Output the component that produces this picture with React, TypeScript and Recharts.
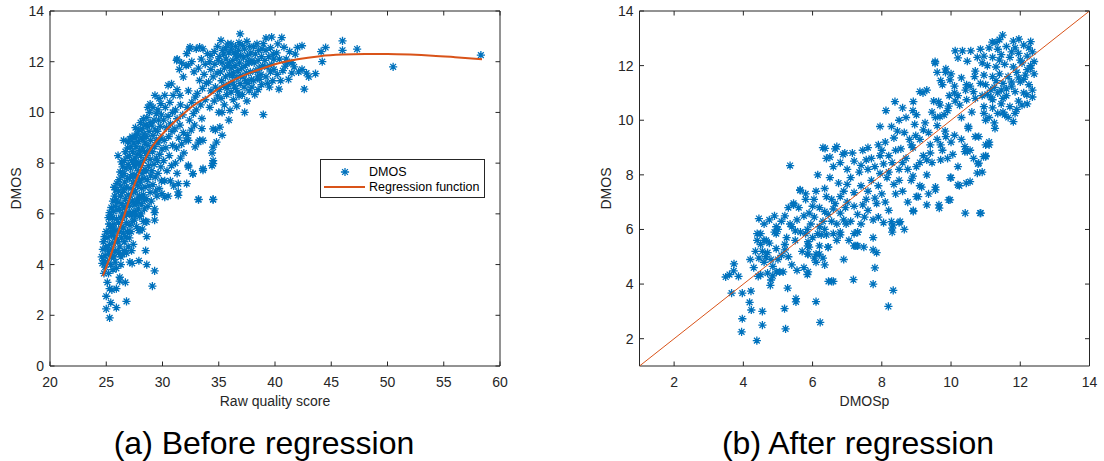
import React from 'react';
import { ScatterChart, Scatter, XAxis, YAxis, ReferenceArea } from 'recharts';

// ---- data: (a) before regression — [raw quality score, DMOS] ----
const before24_25 = [
  [24.6, 4.3], [24.7, 4.6], [24.65, 4.05], [24.8, 3.65], [24.75, 4.9], [24.9, 4.35], [24.85, 5.1],
  [24.95, 4.7], [24.9, 3.9], [25.0, 2.25], [25.0, 2.75], [24.8, 4.15], [25.0, 5.3],
];
const before25_26 = [
  [25.1, 3.3], [25.3, 1.9], [25.3, 3.05], [25.2, 3.65], [25.4, 2.5], [25.5, 3.0], [25.1, 4.1], [25.2, 4.45],
  [25.3, 4.8], [25.15, 5.05], [25.35, 5.3], [25.25, 5.6], [25.4, 5.9], [25.45, 6.25], [25.3, 6.05], [25.45, 4.3],
  [25.4, 4.0], [25.2, 5.85], [25.1, 4.65], [25.35, 5.5], [25.5, 4.6], [25.48, 5.15],
  [25.6, 3.8], [25.9, 3.85], [25.9, 3.05], [25.9, 2.3], [25.55, 4.35], [25.7, 4.3], [25.8, 4.55], [25.6, 4.85],
  [25.75, 5.05], [25.95, 5.0], [25.6, 5.25], [25.85, 5.35], [25.7, 5.6], [25.55, 5.85], [25.9, 5.8], [25.65, 6.1],
  [25.8, 6.3], [25.95, 6.15], [25.6, 6.5], [25.75, 6.7], [25.9, 6.55], [25.85, 6.95], [25.7, 7.05], [25.95, 7.2],
  [25.65, 5.45], [25.8, 4.1],
];
const before26_27 = [
  [26.05, 8.3], [26.2, 3.35], [26.2, 3.5], [26.1, 4.45], [26.3, 4.3], [26.45, 4.4], [26.2, 4.7], [26.05, 4.9],
  [26.35, 5.05], [26.15, 5.3], [26.4, 5.5], [26.1, 5.65], [26.3, 5.85], [26.45, 6.0], [26.2, 6.2], [26.05, 6.45],
  [26.4, 6.4], [26.25, 6.7], [26.1, 6.9], [26.45, 6.85], [26.3, 7.1], [26.15, 7.35], [26.4, 7.5], [26.25, 7.65],
  [26.45, 7.85], [26.35, 8.05], [26.3, 4.0], [26.5, 5.25],
  [26.8, 2.55], [26.7, 3.3], [26.6, 4.55], [26.8, 4.45], [26.95, 4.7], [26.6, 4.9], [26.75, 5.1], [26.9, 5.3],
  [26.55, 5.45], [26.8, 5.65], [26.65, 5.9], [26.95, 6.05], [26.6, 6.25], [26.85, 6.4], [26.7, 6.6], [26.95, 6.75],
  [26.55, 6.95], [26.8, 7.05], [26.65, 7.25], [26.9, 7.4], [26.6, 7.6], [26.75, 7.8], [26.95, 7.95], [26.6, 8.1],
  [26.85, 8.25], [26.7, 8.45], [26.9, 8.6], [26.95, 8.85], [26.55, 8.9], [26.8, 6.0],
];
const before27_28 = [
  [27.1, 4.1], [27.3, 4.05], [27.2, 5.3], [27.05, 5.05], [27.4, 4.8], [27.1, 5.55], [27.35, 5.7], [27.25, 5.95],
  [27.45, 6.1], [27.05, 6.3], [27.3, 6.5], [27.15, 6.7], [27.45, 6.85], [27.2, 7.0], [27.4, 7.2], [27.05, 7.4],
  [27.3, 7.55], [27.15, 7.8], [27.45, 7.95], [27.25, 8.1], [27.05, 8.3], [27.35, 8.45], [27.2, 8.65], [27.45, 8.8],
  [27.1, 8.95], [27.3, 9.05], [27.4, 7.5], [27.1, 6.0], [27.45, 6.45], [27.25, 4.55],
  [27.9, 4.15], [27.9, 5.35], [27.5, 5.75], [27.7, 5.5], [27.6, 6.0], [27.85, 6.2], [27.55, 6.35], [27.75, 6.55],
  [27.95, 6.7], [27.6, 6.9], [27.8, 7.1], [27.55, 7.25], [27.95, 7.35], [27.7, 7.5], [27.85, 7.7], [27.6, 7.85],
  [27.9, 8.0], [27.55, 8.2], [27.75, 8.35], [27.95, 8.5], [27.65, 8.65], [27.85, 8.85], [27.55, 9.0], [27.75, 9.15],
  [27.9, 9.3], [27.6, 9.4], [27.7, 9.1], [27.8, 6.45], [27.95, 5.9], [27.65, 8.05],
];
const before28_29 = [
  [28.2, 5.4], [28.0, 5.35], [28.3, 5.7], [28.1, 6.0], [28.4, 6.2], [28.0, 6.65], [28.3, 6.75], [28.15, 7.0],
  [28.45, 7.05], [28.05, 7.25], [28.35, 7.4], [28.2, 7.6], [28.45, 7.75], [28.1, 7.9], [28.3, 8.1], [28.05, 8.3],
  [28.4, 8.45], [28.2, 8.6], [28.45, 8.8], [28.1, 9.0], [28.35, 9.15], [28.2, 9.35], [28.45, 9.5], [28.05, 9.6],
  [28.3, 9.75], [28.15, 6.4], [28.25, 8.95], [28.4, 6.55],
  [28.6, 4.0], [28.5, 4.55], [28.6, 5.1], [28.5, 5.7], [28.6, 5.68], [28.7, 6.3], [28.9, 6.85], [28.55, 6.6],
  [28.8, 7.1], [28.65, 7.35], [28.95, 7.5], [28.55, 7.7], [28.75, 7.9], [28.9, 8.15], [28.6, 8.3], [28.85, 8.5],
  [28.7, 8.7], [28.95, 8.9], [28.55, 9.05], [28.8, 9.25], [28.65, 9.45], [28.9, 9.6], [28.6, 9.8], [28.85, 10.0],
  [28.7, 10.2], [28.9, 10.33],
];
const before29_30 = [
  [29.1, 3.15], [29.3, 3.75], [29.3, 5.75], [29.3, 6.05], [29.3, 6.2], [29.0, 6.5], [29.4, 6.9], [29.15, 7.15],
  [29.35, 7.45], [29.05, 7.7], [29.25, 7.95], [29.45, 8.2], [29.1, 8.45], [29.3, 8.65], [29.45, 8.9], [29.15, 9.1],
  [29.35, 9.3], [29.05, 9.5], [29.25, 9.7], [29.45, 9.95], [29.33, 10.67], [29.15, 10.2],
  [29.5, 6.7], [29.7, 7.0], [29.9, 7.3], [29.6, 7.6], [29.85, 7.85], [29.55, 8.1], [29.75, 8.35], [29.95, 8.55],
  [29.6, 8.8], [29.85, 9.0], [29.55, 9.25], [29.8, 9.45], [29.65, 9.7], [29.9, 9.9], [29.6, 10.1], [29.85, 10.35],
  [29.7, 10.55], [29.95, 6.8],
];
const before30_32 = [
  [30.2, 6.66], [30.5, 6.7], [30.2, 7.3], [30.7, 7.3], [31.0, 7.1], [30.4, 7.7], [30.8, 7.9], [30.1, 8.1],
  [30.6, 8.3], [30.3, 8.6], [30.9, 8.7], [30.15, 8.9], [30.55, 9.05], [30.85, 9.25], [30.35, 9.4], [30.7, 9.55],
  [30.1, 9.7], [30.5, 9.85], [30.9, 10.0], [30.25, 10.2], [30.65, 10.4], [30.2, 10.67], [30.95, 10.67], [30.5, 11.07],
  [30.8, 11.13],
  [31.4, 6.73], [31.4, 6.87], [31.4, 7.19], [31.3, 7.6], [31.15, 8.0], [31.6, 8.2], [31.9, 8.4], [31.25, 8.6],
  [31.7, 8.75], [31.45, 9.0], [31.85, 9.2], [31.1, 9.35], [31.55, 9.5], [31.3, 9.75], [31.8, 9.9], [31.15, 10.1],
  [31.6, 10.3], [31.55, 10.67], [31.3, 10.9], [31.85, 11.4], [31.26, 12.05], [31.3, 12.1], [31.5, 11.7], [31.7, 11.95],
];
const before32_34 = [
  [32.15, 7.19], [32.3, 7.85], [32.3, 7.91], [32.7, 7.59], [32.7, 7.58], [32.9, 8.64], [32.3, 8.9], [32.1, 8.9],
  [32.2, 9.1], [32.55, 9.3], [32.85, 9.5], [32.4, 9.7], [32.75, 9.95], [32.2, 10.2], [32.6, 10.4], [32.9, 10.6],
  [32.3, 10.85], [32.1, 11.85], [32.3, 11.87], [32.4, 12.51], [32.45, 12.58], [32.15, 12.32], [32.6, 12.0], [32.8, 11.6],
  [33.2, 6.56], [33.2, 6.57], [33.6, 7.72], [33.6, 7.78], [33.3, 8.9], [33.2, 8.83], [33.6, 8.9], [33.5, 9.36],
  [33.5, 9.76], [33.0, 10.1], [33.4, 10.3], [33.8, 10.5], [33.1, 10.75], [33.55, 10.95], [33.9, 11.15], [33.3, 11.26],
  [33.7, 11.5], [33.2, 11.75], [33.8, 11.9], [33.0, 12.51], [33.6, 12.51], [33.3, 12.58], [34.0, 12.32], [33.45, 12.1],
];
const before34_36 = [
  [34.5, 6.56], [34.5, 6.57], [34.5, 7.98], [34.4, 8.4], [34.5, 8.1], [34.4, 7.9], [34.5, 8.63], [34.8, 8.83],
  [34.7, 9.3], [34.5, 9.35], [35.0, 10.0], [34.2, 10.2], [34.6, 10.45], [34.9, 10.65], [34.3, 10.85], [34.7, 11.0],
  [34.1, 11.2], [34.5, 11.4], [34.85, 11.55], [34.3, 11.7], [34.65, 11.9], [34.95, 12.05], [34.3, 12.25], [34.6, 12.4],
  [34.9, 12.6], [34.2, 12.0],
  [35.1, 9.42], [35.3, 9.1], [35.3, 10.0], [35.9, 9.7], [35.5, 10.3], [35.2, 10.55], [35.7, 10.7], [35.05, 10.9],
  [35.45, 11.05], [35.85, 11.1], [35.25, 11.25], [35.6, 11.4], [35.95, 11.5], [35.15, 11.6], [35.5, 11.75], [35.8, 11.85],
  [35.3, 11.95], [35.65, 12.1], [35.05, 12.2], [35.45, 12.3], [35.9, 12.35], [35.2, 12.84], [35.6, 12.55], [35.8, 12.7],
  [35.35, 12.45], [35.75, 10.95], [35.95, 11.95], [36.0, 10.08],
];
const before36_38 = [
  [36.6, 10.25], [36.3, 10.5], [36.8, 10.65], [36.1, 10.8], [36.5, 10.95], [36.9, 11.14], [36.2, 11.2], [36.6, 11.35],
  [36.95, 11.45], [36.3, 11.55], [36.7, 11.65], [36.1, 11.75], [36.45, 11.85], [36.85, 11.95], [36.25, 12.05], [36.6, 12.15],
  [36.95, 12.25], [36.35, 12.35], [36.75, 12.45], [36.1, 12.5], [36.5, 12.6], [36.1, 12.7], [36.9, 13.1], [36.8, 12.75],
  [36.4, 11.05], [36.2, 11.45], [36.55, 12.3], [36.7, 10.8],
  [37.3, 10.0], [37.5, 10.45], [37.1, 10.7], [37.7, 10.85], [37.25, 11.0], [37.6, 11.15], [37.9, 11.3], [37.15, 11.4],
  [37.45, 11.55], [37.8, 11.6], [37.05, 11.75], [37.35, 11.85], [37.7, 11.95], [37.95, 12.05], [37.2, 12.15], [37.55, 12.25],
  [37.85, 12.35], [37.3, 12.5], [37.5, 12.8], [37.75, 12.6], [37.1, 12.65], [37.95, 11.0], [37.4, 11.25], [37.65, 12.0],
];
const before38_42 = [
  [38.96, 9.91], [38.2, 10.7], [38.5, 10.9], [38.8, 11.1], [38.1, 11.25], [38.45, 11.4], [38.75, 11.5], [38.3, 11.65],
  [38.6, 11.75], [38.9, 11.85], [38.15, 11.95], [38.5, 12.05], [38.8, 12.2], [38.25, 12.3], [38.55, 12.45], [38.4, 12.7],
  [38.96, 12.71], [38.85, 12.5], [38.1, 12.6], [38.65, 11.3],
  [39.5, 11.0], [39.8, 11.25], [39.2, 11.4], [39.6, 11.6], [39.3, 11.8], [39.7, 11.9], [39.1, 12.05], [39.45, 12.2],
  [39.85, 12.3], [39.2, 12.45], [39.6, 12.55], [39.2, 12.93], [39.7, 12.97], [39.9, 12.1], [39.35, 11.15], [39.9, 11.7],
  [40.35, 10.92], [40.6, 12.95], [40.8, 12.57], [40.9, 11.83], [41.2, 11.3], [41.5, 11.55], [41.5, 11.96], [41.8, 12.3],
  [42.0, 12.56], [42.1, 11.6], [40.2, 11.5], [40.4, 12.1], [40.7, 11.65], [40.15, 12.35], [41.0, 12.1], [41.3, 12.4],
  [40.5, 11.25], [41.7, 11.8], [40.25, 12.7], [41.1, 11.95],
];
const before42_60 = [
  [42.4, 12.63], [42.4, 11.7], [42.6, 10.92], [43.0, 11.4], [43.6, 11.53], [44.1, 12.4], [44.5, 12.56], [44.2, 12.0],
  [46.0, 12.82], [46.0, 12.45], [47.3, 12.5], [42.8, 11.55], [50.5, 11.8], [58.3, 12.26],
];

// fitted regression function
const regressionCurve = [
  [24.7, 3.55], [25.0, 3.9], [25.5, 4.5], [26.0, 5.2], [26.5, 5.8], [27.0, 6.5], [27.5, 7.15], [28.0, 7.7],
  [28.5, 8.2], [29.0, 8.6], [29.5, 8.9], [30.0, 9.15], [31.0, 9.6], [32.0, 10.0], [33.0, 10.35], [34.0, 10.62],
  [35.0, 10.95], [36.0, 11.2], [37.0, 11.42], [38.0, 11.6], [39.0, 11.75], [40.0, 11.9], [42.0, 12.1], [44.0, 12.22],
  [46.0, 12.28], [48.0, 12.3], [50.0, 12.3], [52.0, 12.28], [54.0, 12.24], [56.0, 12.18], [58.4, 12.1],
];

// ---- data: (b) after regression — [DMOSp, DMOS] ----
const afterLowOutliers = [
  [3.49, 4.26], [3.66, 3.67], [3.97, 3.67], [4.22, 3.74], [4.18, 3.33], [4.23, 3.05], [3.97, 2.73], [3.95, 2.25],
  [4.39, 1.93], [4.55, 2.5], [4.55, 3.0], [5.22, 2.36], [5.19, 3.1], [5.28, 3.85], [5.52, 3.35], [5.52, 3.47],
  [6.1, 3.36], [6.22, 2.6], [4.78, 3.95], [4.8, 4.15], [8.19, 3.18], [8.33, 3.77], [7.75, 4.0], [6.46, 4.1],
  [6.6, 4.1], [6.55, 4.1], [7.18, 4.16], [7.8, 4.59],
];
const afterLowLeft = [
  [3.73, 4.74], [3.72, 4.48], [3.86, 4.28], [3.6, 4.35], [4.43, 4.28], [4.5, 4.35], [4.45, 4.95], [4.5, 5.45],
  [4.4, 5.6], [4.5, 5.85], [4.66, 5.6], [4.75, 5.5], [4.55, 5.2], [4.6, 4.8], [4.7, 4.4], [4.85, 4.3],
  [4.4, 5.85], [4.6, 5.6], [4.95, 5.85], [4.75, 6.35], [4.95, 6.1], [4.9, 5.9], [4.3, 4.6], [4.65, 5.0],
  [4.85, 4.65], [4.35, 5.2], [4.2, 4.9], [4.9, 6.5], [4.6, 6.2], [4.45, 6.4], [4.8, 4.9], [4.95, 4.45],
];
const afterLowMid = [
  [5.05, 4.45], [5.15, 4.45], [5.0, 4.9], [5.1, 5.05], [5.2, 5.25], [5.3, 5.0], [5.55, 4.5], [5.87, 4.45],
  [5.85, 4.35], [5.87, 5.1], [5.9, 5.35], [5.87, 5.55], [6.0, 5.7], [6.1, 5.1], [6.2, 5.4], [6.1, 4.8],
  [6.35, 4.7], [6.25, 5.8], [6.4, 5.8], [5.0, 6.0], [5.35, 6.2], [5.75, 4.6], [6.05, 4.95], [5.86, 5.4],
  [5.86, 5.1], [6.2, 5.1], [5.8, 5.85], [6.15, 5.85], [5.4, 6.1], [5.55, 6.35], [5.75, 6.5], [6.0, 6.85],
  [6.04, 7.1], [5.45, 6.96], [5.64, 7.45], [5.2, 6.5], [5.5, 5.6], [5.65, 5.9], [5.25, 5.7], [5.1, 6.3],
  [5.95, 6.2], [6.3, 6.3], [6.45, 6.55], [6.2, 6.8], [5.9, 6.6], [5.6, 6.8], [5.3, 6.8], [6.4, 7.2],
  [6.1, 7.4], [5.8, 7.1], [5.64, 7.43], [5.45, 6.9], [5.8, 7.3], [6.35, 6.0], [5.7, 5.2], [6.45, 5.35],
  [6.3, 4.95], [5.4, 4.7], [5.35, 8.34],
];
const afterMid = [
  [6.6, 5.85], [6.8, 5.8], [7.2, 5.85], [7.2, 5.4], [6.7, 5.6], [6.45, 5.35], [6.9, 4.9], [7.25, 5.4],
  [7.3, 5.9], [6.8, 5.9], [6.97, 6.2], [7.5, 6.45], [7.75, 6.35], [7.9, 6.45], [6.9, 6.35], [6.8, 6.6],
  [7.2, 6.85], [7.55, 7.1], [7.2, 7.35], [6.9, 7.4], [6.55, 7.1], [6.35, 7.5], [6.15, 8.0], [6.4, 8.6],
  [6.3, 9.0], [6.65, 8.95], [6.88, 8.75], [7.2, 8.5], [7.45, 8.9], [7.6, 9.0], [7.95, 8.7], [6.36, 8.97],
  [6.7, 9.03], [6.93, 8.8], [7.3, 5.4], [7.48, 5.35], [7.75, 5.25], [7.85, 5.15], [7.75, 5.7], [7.3, 5.9],
  [7.0, 7.0], [7.4, 7.6], [7.7, 7.8], [7.1, 7.9], [6.75, 7.7], [6.5, 7.9], [6.6, 8.3], [7.0, 8.2],
  [7.35, 8.1], [7.8, 8.3], [7.6, 7.4], [7.9, 7.6], [6.95, 6.8], [7.6, 6.7], [7.4, 6.2], [7.05, 5.6],
  [6.55, 6.3], [7.85, 6.95], [7.3, 6.55], [6.65, 6.95], [7.55, 8.55], [7.15, 8.8], [6.8, 8.45], [6.5, 8.65],
  [7.95, 8.05],
];
const afterUpperMid = [
  [8.3, 5.9], [8.32, 6.17], [8.5, 6.25], [8.05, 6.25], [8.3, 6.05], [8.2, 6.7], [8.91, 6.66], [8.91, 6.69],
  [8.53, 6.29], [8.28, 6.29], [8.4, 7.3], [8.85, 7.8], [8.5, 7.8], [9.05, 7.2], [9.15, 7.55], [9.0, 7.2],
  [9.1, 7.6], [8.9, 7.95], [8.5, 8.2], [8.3, 8.45], [8.65, 9.55], [8.98, 9.44], [9.35, 9.55], [9.4, 9.1],
  [8.5, 10.0], [8.7, 10.1], [8.95, 9.85], [7.95, 9.77], [8.28, 9.77], [8.38, 10.68], [8.12, 10.35], [8.91, 10.68],
  [9.19, 11.0], [9.3, 11.1], [9.1, 11.05], [8.9, 10.35], [8.1, 9.2], [8.4, 8.9], [8.7, 8.6], [9.0, 8.3],
  [9.3, 8.0], [9.2, 8.7], [8.85, 9.1], [8.2, 8.7], [8.6, 7.4], [8.75, 7.0], [9.35, 7.3], [9.45, 8.45],
  [8.15, 7.9], [8.05, 8.4], [8.55, 8.95], [9.25, 9.9], [9.0, 10.2], [8.6, 10.45], [9.45, 10.3], [8.35, 9.35],
  [9.1, 9.3], [8.0, 7.3], [9.3, 6.9], [8.65, 6.0],
];
const afterUpper = [
  [9.66, 6.78], [9.93, 7.08], [9.97, 7.08], [10.41, 6.6], [10.84, 6.6], [10.86, 6.6], [9.65, 6.9], [9.55, 7.55],
  [9.55, 7.45], [10.2, 7.63], [9.98, 7.9], [10.0, 7.9], [10.24, 7.6], [10.44, 7.7], [10.55, 7.75], [10.76, 8.06],
  [10.8, 8.43], [10.78, 8.4], [10.9, 8.1], [10.4, 8.85], [10.55, 8.9], [10.47, 8.85], [10.4, 9.03], [10.1, 9.45],
  [10.3, 9.3], [10.5, 9.7], [10.7, 9.4], [10.8, 9.4], [9.6, 9.8], [9.83, 9.6], [9.7, 9.1], [9.68, 10.13],
  [9.5, 10.7], [9.68, 10.55], [9.95, 10.9], [10.1, 11.0], [9.93, 10.52], [9.64, 10.68], [10.2, 10.9], [10.12, 10.7],
  [10.45, 11.3], [10.42, 11.1], [10.55, 11.25], [9.75, 11.3], [9.7, 11.45], [9.6, 11.75], [9.54, 12.15], [9.54, 12.09],
  [9.85, 11.88], [10.0, 11.7], [9.97, 11.48], [9.84, 11.75], [10.7, 11.8], [10.68, 11.6], [10.12, 12.54], [10.33, 12.54],
  [10.57, 12.54], [10.2, 12.28], [10.47, 12.16], [10.76, 12.3], [10.5, 9.77], [9.9, 8.6], [10.2, 8.3], [10.6, 10.3],
  [10.3, 10.1], [9.8, 10.2], [10.7, 10.8], [10.0, 9.2], [9.75, 8.9], [10.65, 8.6],
];
const afterTopCluster = [
  [11.0, 8.7], [11.0, 8.67], [10.94, 8.67], [11.1, 9.1], [11.0, 9.1], [11.1, 9.2], [11.27, 9.7], [11.8, 9.95],
  [11.0, 10.0], [11.1, 10.1], [11.5, 10.3], [12.19, 10.93], [11.05, 10.95], [11.49, 13.12], [11.19, 12.86], [11.96, 12.97],
  [12.3, 12.88], [12.3, 11.9],
  [10.95, 10.5], [11.2, 10.45], [11.45, 10.6], [11.7, 10.5], [11.95, 10.7], [12.2, 10.6],
  [10.9, 10.9], [11.15, 10.85], [11.35, 11.0], [11.6, 10.9], [11.85, 11.05], [12.1, 11.0], [12.35, 11.1],
  [11.0, 11.3], [11.25, 11.2], [11.5, 11.35], [11.75, 11.25], [12.0, 11.4], [12.25, 11.3],
  [10.95, 11.65], [11.2, 11.6], [11.4, 11.7], [11.65, 11.6], [11.9, 11.75], [12.15, 11.65], [12.4, 11.7],
  [11.05, 12.0], [11.3, 11.95], [11.55, 12.05], [11.8, 11.95], [12.05, 12.1], [12.3, 12.0],
  [10.95, 12.35], [11.2, 12.3], [11.45, 12.4], [11.7, 12.3], [11.95, 12.45], [12.2, 12.35],
  [11.1, 12.65], [11.35, 12.6], [11.6, 12.7], [11.85, 12.65], [12.1, 12.75],
  [11.3, 11.45], [11.5, 10.8], [11.75, 12.5], [12.0, 12.2], [11.15, 11.1], [11.6, 11.15], [11.9, 10.4],
  [12.1, 11.5], [11.4, 12.2], [12.35, 12.5], [11.55, 10.2], [11.25, 9.9], [11.65, 10.1], [11.3, 12.85],
];
const afterBand = [
  [6.2, 6.1], [6.7, 6.2], [7.1, 6.3], [7.45, 6.9], [7.8, 7.15], [8.1, 7.0], [8.35, 7.65], [8.75, 8.2],
  [9.1, 8.45], [9.4, 8.8], [9.6, 9.3], [9.85, 9.4], [8.9, 9.0], [8.2, 8.1], [7.7, 8.6], [7.4, 8.35],
  [7.0, 7.65], [6.8, 7.2], [6.6, 6.75], [6.35, 6.65], [6.05, 6.45], [5.85, 6.0], [5.5, 5.95], [5.2, 5.45],
  [4.95, 5.3], [4.7, 5.15], [7.9, 9.1], [8.45, 9.6], [8.8, 9.3], [9.2, 9.65], [9.55, 10.1], [9.9, 10.35],
  [10.25, 10.55], [10.45, 10.75], [10.65, 11.05], [10.85, 11.35], [10.3, 11.55], [10.1, 11.25], [10.9, 12.1], [10.85, 12.6],
  [11.4, 12.95], [11.8, 12.9], [12.25, 12.65], [12.4, 12.15], [12.2, 11.85], [11.95, 11.55], [11.75, 11.4], [11.45, 11.1],
  [11.2, 10.75], [10.95, 10.25], [11.35, 10.25], [11.85, 10.25], [12.05, 10.55], [12.35, 10.85], [7.6, 8.2], [8.0, 8.9],
  [8.6, 8.45], [9.3, 8.55], [9.7, 8.55], [10.05, 8.75],
];

// y = x reference line
const identityLine = [[1, 1], [14, 14]];

// ---- ticks ----
const rawTicks = [20, 25, 30, 35, 40, 45, 50, 55, 60];
const dmosTicks = [0, 2, 4, 6, 8, 10, 12, 14];
const dmospTicks = [2, 4, 6, 8, 10, 12, 14];
const dmosAfterTicks = [2, 4, 6, 8, 10, 12, 14];

const toXY = (rows: number[][]) => rows.map(([x, y]) => ({ x, y }));

const beforePoints = toXY([
  ...before24_25, ...before25_26, ...before26_27, ...before27_28, ...before28_29, ...before29_30,
  ...before30_32, ...before32_34, ...before34_36, ...before36_38, ...before38_42, ...before42_60,
]);
const afterPoints = toXY([
  ...afterLowOutliers, ...afterLowLeft, ...afterLowMid, ...afterMid, ...afterUpperMid,
  ...afterUpper, ...afterTopCluster, ...afterBand,
]);

const BLUE = '#0072BD';
const ORANGE = '#D95319';
const AXIS = '#262626';
const FONT = '"Liberation Sans", Arial, Helvetica, sans-serif';
const TICK = 4.5;
const PLOT_TOP = 11;
const PLOT_BOTTOM = 366;

const Asterisk = (props: any) => {
  const { cx, cy } = props;
  if (cx == null || cy == null) return <g />;
  const r = 4.1;
  const d = r * 0.707;
  const path = `M${cx - r},${cy}H${cx + r}M${cx},${cy - r}V${cy + r}` +
    `M${cx - d},${cy - d}L${cx + d},${cy + d}M${cx - d},${cy + d}L${cx + d},${cy - d}`;
  return <path d={path} stroke={BLUE} strokeWidth={1.3} fill="none" />;
};

const NoDot = () => <g />;

const XTick = (props: any) => {
  const { x, payload } = props;
  return (
    <g>
      <line x1={x} x2={x} y1={PLOT_BOTTOM} y2={PLOT_BOTTOM - TICK} stroke={AXIS} />
      <line x1={x} x2={x} y1={PLOT_TOP} y2={PLOT_TOP + TICK} stroke={AXIS} />
      <text x={x} y={PLOT_BOTTOM + 21} textAnchor="middle" fontSize={14} fontFamily={FONT} fill={AXIS}>
        {payload.value}
      </text>
    </g>
  );
};

const makeYTick = (left: number, right: number) => (props: any) => {
  const { y, payload } = props;
  return (
    <g>
      <line x1={left} x2={left + TICK} y1={y} y2={y} stroke={AXIS} />
      <line x1={right} x2={right - TICK} y1={y} y2={y} stroke={AXIS} />
      <text x={left - 6} y={y + 5} textAnchor="end" fontSize={14} fontFamily={FONT} fill={AXIS}>
        {payload.value}
      </text>
    </g>
  );
};

const leftYTick = makeYTick(50, 500);
const rightYTick = makeYTick(79.5, 529.5);

export default function App() {
  return (
    <div style={{ position: 'absolute', left: 0, top: 0, width: 1104, height: 461, background: '#fff' }}>
      <div style={{ position: 'absolute', left: 0, top: 0 }}>
        <ScatterChart width={545} height={461} margin={{ top: 11, right: 45, bottom: 55, left: 0 }}>
          <XAxis type="number" dataKey="x" domain={[20, 60]} ticks={rawTicks} interval={0} allowDataOverflow
            axisLine={false} tickLine={false} height={40} tick={XTick} />
          <YAxis type="number" dataKey="y" domain={[0, 14]} ticks={dmosTicks} interval={0} allowDataOverflow
            axisLine={false} tickLine={false} width={50} tick={leftYTick} />
          <ReferenceArea x1={20} x2={60} y1={0} y2={14} fill="none" stroke={AXIS} strokeWidth={1} />
          <Scatter data={beforePoints} shape={Asterisk} isAnimationActive={false} />
          <Scatter data={toXY(regressionCurve)} shape={NoDot} line={{ stroke: ORANGE, strokeWidth: 2 }}
            lineJointType="monotoneX" isAnimationActive={false} />
        </ScatterChart>
      </div>
      <div style={{ position: 'absolute', left: 560, top: 0 }}>
        <ScatterChart width={544} height={461} margin={{ top: 11, right: 14.5, bottom: 55, left: 0 }}>
          <XAxis type="number" dataKey="x" domain={[1, 14]} ticks={dmospTicks} interval={0} allowDataOverflow
            axisLine={false} tickLine={false} height={40} tick={XTick} />
          <YAxis type="number" dataKey="y" domain={[1, 14]} ticks={dmosAfterTicks} interval={0} allowDataOverflow
            axisLine={false} tickLine={false} width={79.5} tick={rightYTick} />
          <ReferenceArea x1={1} x2={14} y1={1} y2={14} fill="none" stroke={AXIS} strokeWidth={1} />
          <Scatter data={afterPoints} shape={Asterisk} isAnimationActive={false} />
          <Scatter data={toXY(identityLine)} shape={NoDot} line={{ stroke: ORANGE, strokeWidth: 1 }}
            isAnimationActive={false} />
        </ScatterChart>
      </div>
      <svg width={1104} height={461} style={{ position: 'absolute', left: 0, top: 0, pointerEvents: 'none' }}
        fontFamily={FONT}>
        <text x={16} y={188.5} transform="rotate(-90 16 188.5)" textAnchor="middle" dominantBaseline="central"
          fontSize={14} fill={AXIS}>DMOS</text>
        <text x={606} y={188.5} transform="rotate(-90 606 188.5)" textAnchor="middle" dominantBaseline="central"
          fontSize={14} fill={AXIS}>DMOS</text>
        <text x={275} y={406} textAnchor="middle" fontSize={14} fill={AXIS}>Raw quality score</text>
        <text x={864.5} y={405.5} textAnchor="middle" fontSize={14} fill={AXIS}>DMOSp</text>
        <text x={264} y={454} textAnchor="middle" fontSize={32} fill="#000">(a) Before regression</text>
        <text x={858} y={454} textAnchor="middle" fontSize={32} fill="#000">(b) After regression</text>
        <g transform="translate(320,159)">
          <rect x={0.5} y={0.5} width={164} height={38} fill="#fff" stroke={AXIS} strokeWidth={1} />
          <Asterisk cx={25} cy={13} />
          <text x={49} y={17} fontSize={12.5} fill="#000">DMOS</text>
          <line x1={4} x2={45} y1={28} y2={28} stroke={ORANGE} strokeWidth={2} />
          <text x={49} y={32} fontSize={12.5} fill="#000">Regression function</text>
        </g>
      </svg>
    </div>
  );
}
